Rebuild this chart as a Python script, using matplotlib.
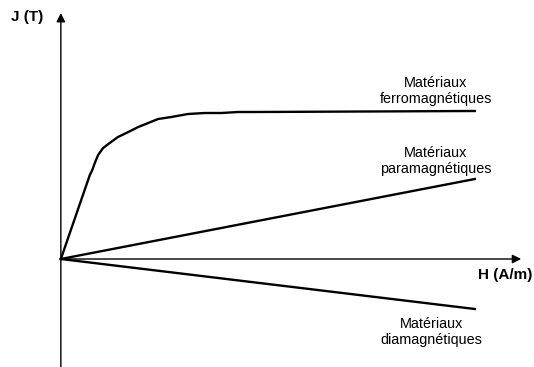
import numpy as np
import matplotlib.pyplot as plt

plt.rcParams['font.family'] = ['Liberation Sans', 'DejaVu Sans']

# courbes J(H), unites arbitraires
h_ferro = [0, 0.70, 0.76, 0.82, 0.90, 1.02, 1.18, 1.38, 1.63, 1.87, 2.11, 2.35,
           2.67, 3.07, 3.48, 3.88, 4.28, 4.69, 10.0]
j_ferro = [0, 0.84, 0.89, 0.96, 1.04, 1.11, 1.16, 1.22, 1.27, 1.32, 1.36, 1.40,
           1.42, 1.45, 1.46, 1.46, 1.47, 1.47, 1.48]
h_para = [0, 10.0]
j_para = [0, 0.80]
h_dia = [0, 10.0]
j_dia = [0, -0.50]

labels = ['Matériaux\nferromagnétiques', 'Matériaux\nparamagnétiques', 'Matériaux\ndiamagnétiques']

fig = plt.figure(figsize=(5.34, 3.67), dpi=100)
ax = fig.add_axes([0, 0, 1, 1])
ax.set_xlim(-1.47, 11.43)
ax.set_ylim(-1.08, 2.59)
ax.axis('off')

# axes avec fleches
ax.annotate('', xy=(11.12, 0), xytext=(0, 0),
            arrowprops=dict(arrowstyle='-|>', lw=1.0, color='black', mutation_scale=13, shrinkA=0, shrinkB=0))
ax.annotate('', xy=(0, 2.46), xytext=(0, -1.1),
            arrowprops=dict(arrowstyle='-|>', lw=1.0, color='black', mutation_scale=13, shrinkA=0, shrinkB=0))

ax.plot(h_ferro, j_ferro, color='black', lw=1.7, solid_joinstyle='round')
ax.plot(h_para, j_para, color='black', lw=1.7)
ax.plot(h_dia, j_dia, color='black', lw=1.7)

ax.text(-0.81, 2.42, 'J (T)', fontsize=11, fontweight='bold', ha='center', va='center')
ax.text(11.4, -0.16, 'H (A/m)', fontsize=11, fontweight='bold', ha='right', va='center')

ax.text(9.06, 1.68, labels[0], fontsize=10.4, ha='center', va='center', linespacing=1.1)
ax.text(9.06, 0.98, labels[1], fontsize=10.4, ha='center', va='center', linespacing=1.1)
ax.text(8.95, -0.73, labels[2], fontsize=10.4, ha='center', va='center', linespacing=1.1)

fig.savefig('out.png', dpi=100)
